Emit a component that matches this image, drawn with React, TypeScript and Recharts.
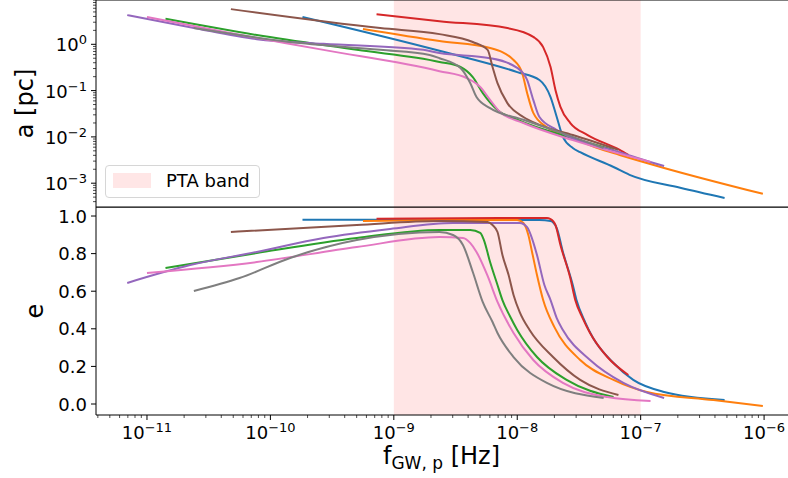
import { LineChart, Line, XAxis, YAxis, ReferenceArea } from 'recharts'

// matplotlib tab10 colours, in plot order
const COLORS = ['#1f77b4', '#ff7f0e', '#2ca02c', '#d62728', '#9467bd', '#8c564b', '#e377c2', '#7f7f7f']

// separation: [log10 f_GW,p (Hz), log10 a (pc)]
const blueA = [[-9.74, 0.59], [-8.63, -0.14], [-8.0, -0.6], [-7.82, -0.77], [-7.73, -1.14], [-7.68, -1.57], [-7.63, -2.0], [-7.55, -2.24], [-7.49, -2.33], [-7.22, -2.65], [-7.09, -2.82], [-6.68, -3.1], [-6.32, -3.32]]
const orangeA = [[-9.25, 0.33], [-8.63, 0.07], [-8.22, -0.08], [-8.03, -0.34], [-7.96, -0.62], [-7.92, -1.05], [-7.87, -1.48], [-7.76, -1.79], [-7.6, -1.96], [-7.35, -2.24], [-7.17, -2.39], [-6.81, -2.67], [-6.01, -3.23]]
const greenA = [[-10.85, 0.55], [-10.11, 0.2], [-9.3, -0.12], [-8.63, -0.38], [-8.46, -0.49], [-8.36, -0.71], [-8.28, -1.05], [-8.16, -1.42], [-8.0, -1.63], [-7.55, -2.03], [-7.22, -2.28]]
const redA = [[-9.14, 0.65], [-8.63, 0.5], [-8.08, 0.35], [-7.87, 0.16], [-7.79, -0.06], [-7.73, -0.49], [-7.69, -0.99], [-7.65, -1.35], [-7.57, -1.7], [-7.43, -1.96], [-7.17, -2.28], [-7.1, -2.39]]
const purpleA = [[-11.16, 0.63], [-10.65, 0.37], [-10.11, 0.11], [-9.57, 0.01], [-8.76, -0.12], [-8.63, -0.19], [-8.22, -0.3], [-8.0, -0.51], [-7.92, -0.77], [-7.87, -1.2], [-7.82, -1.57], [-7.68, -1.85], [-7.17, -2.33], [-6.81, -2.63]]
const brownA = [[-10.32, 0.76], [-9.11, 0.35], [-8.63, 0.22], [-8.36, 0.05], [-8.24, -0.12], [-8.2, -0.49], [-8.16, -0.84], [-8.08, -1.27], [-7.95, -1.57], [-7.82, -1.74], [-7.55, -1.96], [-7.18, -2.28]]
const pinkA = [[-11.0, 0.59], [-10.38, 0.27], [-9.57, -0.12], [-8.63, -0.58], [-8.41, -0.73], [-8.3, -0.92], [-8.22, -1.2], [-8.14, -1.46], [-7.95, -1.7], [-7.55, -2.07], [-6.92, -2.54]]
const grayA = [[-10.62, 0.35], [-9.84, 0.05], [-9.11, -0.12], [-8.71, -0.23], [-8.63, -0.3], [-8.46, -0.51], [-8.38, -0.84], [-8.33, -1.14], [-8.22, -1.38], [-7.95, -1.63], [-7.55, -2.0], [-7.3, -2.24]]

// eccentricity: [log10 f_GW,p (Hz), e]
const blueE = [[-9.74, 0.98], [-8.63, 0.98], [-7.82, 0.979], [-7.73, 0.973], [-7.68, 0.936], [-7.63, 0.809], [-7.55, 0.633], [-7.52, 0.553], [-7.45, 0.436], [-7.39, 0.356], [-7.22, 0.218], [-7.06, 0.128], [-6.81, 0.064], [-6.32, 0.021]]
const orangeE = [[-9.25, 0.973], [-8.63, 0.979], [-8.0, 0.979], [-7.95, 0.963], [-7.91, 0.899], [-7.88, 0.809], [-7.84, 0.686], [-7.79, 0.553], [-7.7, 0.41], [-7.49, 0.234], [-7.22, 0.128], [-6.95, 0.064], [-6.41, 0.021], [-6.01, -0.011]]
const greenE = [[-10.85, 0.723], [-10.11, 0.803], [-9.3, 0.883], [-8.63, 0.926], [-8.38, 0.926], [-8.3, 0.91], [-8.27, 0.872], [-8.22, 0.755], [-8.16, 0.633], [-8.12, 0.553], [-8.06, 0.468], [-8.0, 0.394], [-7.84, 0.25], [-7.6, 0.128], [-7.22, 0.037]]
const redE = [[-9.14, 0.985], [-8.14, 0.989], [-7.76, 0.989], [-7.73, 0.984], [-7.69, 0.952], [-7.65, 0.846], [-7.57, 0.67], [-7.53, 0.553], [-7.47, 0.457], [-7.41, 0.378], [-7.27, 0.25], [-7.1, 0.154]]
const purpleE = [[-11.16, 0.644], [-10.65, 0.739], [-10.11, 0.809], [-9.57, 0.883], [-9.03, 0.931], [-8.52, 0.963], [-7.98, 0.963], [-7.92, 0.941], [-7.89, 0.899], [-7.84, 0.793], [-7.78, 0.633], [-7.73, 0.553], [-7.68, 0.457], [-7.63, 0.394], [-7.41, 0.234], [-7.14, 0.112], [-6.81, 0.032]]
const brownE = [[-10.32, 0.915], [-9.3, 0.952], [-8.63, 0.973], [-8.24, 0.968], [-8.2, 0.952], [-8.16, 0.915], [-8.12, 0.793], [-8.07, 0.686], [-8.03, 0.58], [-7.98, 0.489], [-7.9, 0.394], [-7.71, 0.25], [-7.49, 0.128], [-7.18, 0.048]]
const pinkE = [[-11.0, 0.697], [-10.11, 0.755], [-9.3, 0.835], [-8.63, 0.888], [-8.44, 0.883], [-8.38, 0.856], [-8.33, 0.809], [-8.24, 0.681], [-8.16, 0.543], [-8.03, 0.378], [-7.87, 0.234], [-7.63, 0.112], [-7.27, 0.037], [-6.92, 0.016]]
const grayE = [[-10.62, 0.601], [-10.25, 0.67], [-9.84, 0.777], [-9.3, 0.872], [-8.63, 0.915], [-8.52, 0.899], [-8.44, 0.846], [-8.36, 0.702], [-8.28, 0.543], [-8.2, 0.436], [-8.16, 0.378], [-8.03, 0.25], [-7.76, 0.112], [-7.3, 0.032]]

const A_SERIES = [blueA, orangeA, greenA, redA, purpleA, brownA, pinkA, grayA]
const E_SERIES = [blueE, orangeE, greenE, redE, purpleE, brownE, pinkE, grayE]

// PTA band, log10 Hz
const PTA_BAND = [-9, -7]
const E_TICKS = [0, 0.2, 0.4, 0.6, 0.8, 1.0]

const X_DOMAIN = [-11.413, -5.79]
const A_DOMAIN = [-3.514, 0.957]
const E_DOMAIN = [-0.0585, 1.048]

const FONT = '"DejaVu Sans", sans-serif'

const logTicks = (lo: number, hi: number) => {
  const out: number[] = []
  for (let k = Math.floor(lo) - 1; k <= Math.ceil(hi); k++) {
    for (let m = 1; m <= 9; m++) {
      const v = k + Math.log10(m)
      if (v >= lo && v <= hi) out.push(v)
    }
  }
  return out
}

const toPts = (arr: number[][]) => arr.map(([x, y]) => ({ x, y }))

const isMajor = (v: number) => Math.abs(v - Math.round(v)) < 1e-6
const expText = (v: number) => {
  const n = Math.round(v)
  return n < 0 ? `\u2212${-n}` : `${n}`
}

function XTick(props: any) {
  const { x, y, payload } = props
  const major = isMajor(payload.value)
  return (
    <g>
      <line x1={x} x2={x} y1={y} y2={y + (major ? 5 : 3)} stroke="#000" strokeWidth={major ? 1 : 0.7} />
      {major && (
        <text x={x} y={y + 24} textAnchor="middle" fontSize={18} fontFamily={FONT} fill="#000">
          10<tspan dy={-7} fontSize={13}>{expText(payload.value)}</tspan>
        </text>
      )}
    </g>
  )
}

function ATick(props: any) {
  const { x, y, payload } = props
  const major = isMajor(payload.value)
  return (
    <g>
      <line x1={x} x2={x - (major ? 5 : 3)} y1={y} y2={y} stroke="#000" strokeWidth={major ? 1 : 0.7} />
      {major && (
        <text x={x - 9} y={y + 7} textAnchor="end" fontSize={18} fontFamily={FONT} fill="#000">
          10<tspan dy={-7} fontSize={13}>{expText(payload.value)}</tspan>
        </text>
      )}
    </g>
  )
}

function ETick(props: any) {
  const { x, y, payload } = props
  return (
    <g>
      <line x1={x} x2={x - 5} y1={y} y2={y} stroke="#000" strokeWidth={1} />
      <text x={x - 9} y={y + 6.5} textAnchor="end" fontSize={18} fontFamily={FONT} fill="#000">
        {payload.value.toFixed(1)}
      </text>
    </g>
  )
}

export default function App() {
  const xTicks = logTicks(X_DOMAIN[0], X_DOMAIN[1])
  const aTicks = logTicks(A_DOMAIN[0], A_DOMAIN[1])

  return (
    <div style={{ position: 'absolute', left: 0, top: 0, width: 788, height: 478, overflow: 'hidden', background: '#fff', fontFamily: FONT }}>
      <div style={{ position: 'absolute', left: 0, top: 0 }}>
        <LineChart width={790} height={208} margin={{ top: 0, right: 0, bottom: 1, left: 0 }}>
          <XAxis type="number" dataKey="x" domain={X_DOMAIN} allowDataOverflow hide />
          <YAxis
            type="number"
            domain={A_DOMAIN}
            allowDataOverflow
            width={96}
            ticks={aTicks}
            interval={0}
            tickSize={0}
            tickMargin={0}
            axisLine={false}
            tickLine={false}
            tick={<ATick />}
          />
          <ReferenceArea x1={PTA_BAND[0]} x2={PTA_BAND[1]} fill="#ff0000" fillOpacity={0.1} stroke="none" />
          {A_SERIES.map((s, i) => (
            <Line
              key={i}
              data={toPts(s)}
              dataKey="y"
              type="monotone"
              stroke={COLORS[i]}
              strokeWidth={2}
              dot={false}
              isAnimationActive={false}
            />
          ))}
          <ReferenceArea x1={X_DOMAIN[0]} x2={X_DOMAIN[1]} y1={A_DOMAIN[0]} y2={A_DOMAIN[1]} fill="none" stroke="#000" strokeWidth={1} />
        </LineChart>
      </div>

      <div style={{ position: 'absolute', left: 0, top: 207 }}>
        <LineChart width={790} height={271} margin={{ top: 0, right: 0, bottom: 0, left: 0 }}>
          <XAxis
            type="number"
            dataKey="x"
            domain={X_DOMAIN}
            allowDataOverflow
            height={63}
            ticks={xTicks}
            interval={0}
            tickSize={0}
            tickMargin={0}
            axisLine={false}
            tickLine={false}
            tick={<XTick />}
          />
          <YAxis
            type="number"
            domain={E_DOMAIN}
            allowDataOverflow
            width={96}
            ticks={E_TICKS}
            interval={0}
            tickSize={0}
            tickMargin={0}
            axisLine={false}
            tickLine={false}
            tick={<ETick />}
          />
          <ReferenceArea x1={PTA_BAND[0]} x2={PTA_BAND[1]} fill="#ff0000" fillOpacity={0.1} stroke="none" />
          {E_SERIES.map((s, i) => (
            <Line
              key={i}
              data={toPts(s)}
              dataKey="y"
              type="monotone"
              stroke={COLORS[i]}
              strokeWidth={2}
              dot={false}
              isAnimationActive={false}
            />
          ))}
          <ReferenceArea x1={X_DOMAIN[0]} x2={X_DOMAIN[1]} y1={E_DOMAIN[0]} y2={E_DOMAIN[1]} fill="none" stroke="#000" strokeWidth={1} />
        </LineChart>
      </div>

      {/* axis titles */}
      <svg width={788} height={478} style={{ position: 'absolute', left: 0, top: 0, pointerEvents: 'none' }}>
        <text transform="translate(33,103.5) rotate(-90)" textAnchor="middle" fontSize={24} fontFamily={FONT} fill="#000">
          a [pc]
        </text>
        <text transform="translate(43,311) rotate(-90)" textAnchor="middle" fontSize={24} fontFamily={FONT} fill="#000">
          e
        </text>
        <text x={441.5} y={464} textAnchor="middle" fontSize={24} fontFamily={FONT} fill="#000">
          f<tspan dy={5} fontSize={17}>GW, p</tspan>
          <tspan dy={-5}> [Hz]</tspan>
        </text>
      </svg>

      {/* legend */}
      <div
        style={{
          position: 'absolute',
          left: 105,
          top: 165,
          width: 155,
          height: 33,
          boxSizing: 'border-box',
          border: '1px solid #d6d6d6',
          borderRadius: 4,
          background: 'rgba(255,255,255,0.8)',
        }}
      >
        <div style={{ position: 'absolute', left: 7, top: 7, width: 38, height: 15, background: '#ffe6e6' }} />
        <div style={{ position: 'absolute', left: 60, top: 3, fontSize: 18, lineHeight: '24px', color: '#000', whiteSpace: 'nowrap' }}>
          PTA band
        </div>
      </div>
    </div>
  )
}
